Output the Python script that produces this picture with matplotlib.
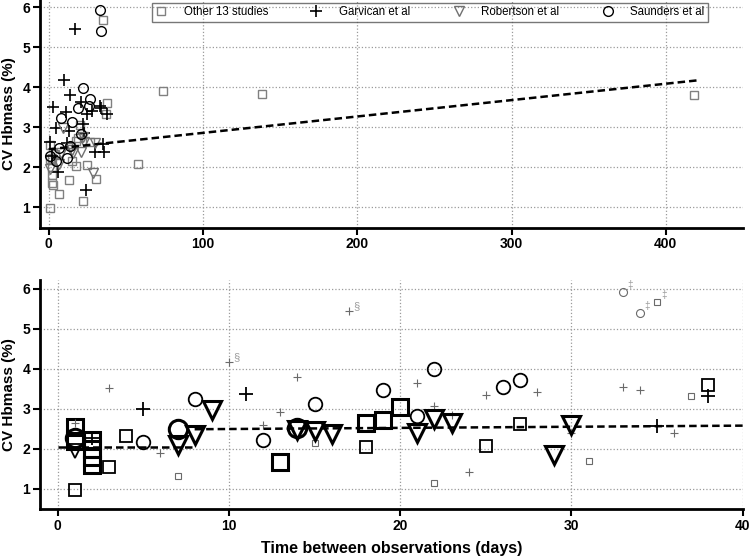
import matplotlib
matplotlib.use("Agg")
import matplotlib.pyplot as plt
import numpy as np

plt.rcParams['font.family'] = ['Liberation Sans', 'DejaVu Sans']

# ---------------- data ----------------
# Other 13 studies (squares): days, CV, weight class (1 small, 2 medium, 3 large)
sq_x = [1, 1, 1, 2, 2, 2, 2, 3, 4, 7, 13, 15, 18, 18, 19, 20, 22, 25, 27, 31, 35, 37, 38, 58, 74, 138, 418]
sq_y = [2.55, 2.2, 0.97, 2.22, 2.0, 1.8, 1.6, 1.55, 2.32, 1.33, 1.68, 2.15, 2.65, 2.04, 2.72, 3.05, 1.15, 2.06, 2.62, 1.70, 5.68, 3.32, 3.6, 2.08, 3.91, 3.83, 3.8]
sq_w = [3, 3, 2, 3, 3, 3, 3, 2, 2, 1, 3, 1, 3, 2, 3, 3, 1, 2, 2, 1, 1, 1, 2, 1, 1, 1, 1]

# Garvican et al (plus)
gv_x = [1, 2, 3, 5, 6, 10, 11, 12, 13, 14, 17, 21, 22, 23, 24, 25, 28, 30, 33, 34, 35, 36, 38]
gv_y = [2.64, 2.28, 3.51, 2.99, 1.89, 4.18, 3.37, 2.6, 2.91, 3.80, 5.45, 3.64, 3.07, 2.85, 1.42, 3.34, 3.41, 2.39, 3.54, 3.47, 2.57, 2.39, 3.32]
gv_w = [1, 2, 1, 2, 1, 1, 2, 1, 1, 1, 1, 1, 1, 1, 1, 1, 1, 1, 1, 1, 2, 1, 2]

# Robertson et al (down triangles)
rb_x = [1, 7, 8, 9, 14, 15, 16, 21, 22, 23, 29, 30]
rb_y = [1.95, 2.09, 2.35, 2.97, 2.47, 2.44, 2.36, 2.39, 2.75, 2.64, 1.85, 2.6]
rb_w = [2, 3, 3, 3, 3, 3, 3, 3, 3, 3, 3, 3]

# Saunders et al (circles)
sd_x = [1, 5, 7, 8, 12, 14, 15, 19, 21, 22, 26, 27, 33, 34]
sd_y = [2.27, 2.16, 2.49, 3.24, 2.22, 2.52, 3.12, 3.47, 2.82, 3.99, 3.54, 3.71, 5.93, 5.41]
sd_w = [3, 2, 3, 2, 2, 3, 2, 2, 2, 2, 2, 2, 1, 1]

# annotated points in the lower panel
sect_pts = [(10, 4.18), (17, 5.45)]          # marked with §
dagger_pts = [(33, 5.93), (34, 5.41), (35, 5.68)]  # marked with ‡

# fitted trend lines
trend_top_x = [0, 420]
trend_top_y = [2.45, 4.17]
trend_bot1_x = [0, 8]
trend_bot1_y = [2.05, 2.05]
trend_bot2_x = [8, 40]
trend_bot2_y = [2.49, 2.58]

labels = ['Other 13 studies', 'Garvican et al', 'Robertson et al', 'Saunders et al']

# ---------------- figure ----------------
W, H = 750, 559
fig = plt.figure(figsize=(7.5, 5.59), dpi=100)

ax1 = fig.add_axes([40 / W, 1 - 227.7 / H, 703 / W, 227.7 / H])
ax2 = fig.add_axes([40 / W, 1 - 509.3 / H, 703 / W, 229.3 / H])


def style(ax):
    for s in ['top', 'right']:
        ax.spines[s].set_visible(False)
    for s in ['left', 'bottom']:
        ax.spines[s].set_linewidth(2)
        ax.spines[s].set_color('black')
    ax.grid(True, linestyle=':', color='#9a9a9a', linewidth=0.9)
    ax.set_axisbelow(True)
    ax.tick_params(direction='out', length=5, width=1.5, labelsize=10, pad=2)
    for t in ax.get_xticklabels() + ax.get_yticklabels():
        t.set_fontweight('bold')
    ax.set_ylabel('CV Hbmass (%)', fontsize=11, fontweight='bold', labelpad=5)


# ---- top panel ----
h_sq, = ax1.plot(sq_x, sq_y, 's', ms=5.5, mfc='none', mec='#808080', mew=1.0, linestyle='none')
h_gv, = ax1.plot(gv_x, gv_y, '+', ms=8, mec='black', mew=1.2, linestyle='none')
h_rb, = ax1.plot(rb_x, rb_y, 'v', ms=7, mfc='none', mec='#707070', mew=1.0, linestyle='none')
h_sd, = ax1.plot(sd_x, sd_y, 'o', ms=7, mfc='none', mec='black', mew=1.0, linestyle='none')
ax1.plot(trend_top_x, trend_top_y, linestyle=(0, (3, 1.6)), color='black', lw=1.8, zorder=4)
ax1.set_xlim(-5.6, 450)
ax1.set_ylim(0.49, 6.18)
ax1.set_xticks([0, 100, 200, 300, 400])
ax1.set_yticks([1, 2, 3, 4, 5, 6])
style(ax1)

leg = fig.legend([h_sq, h_gv, h_rb, h_sd], labels, ncol=4, loc='upper left',
                 bbox_to_anchor=(152 / W, 1 - 3 / H),
                 fontsize=8.3, frameon=True, fancybox=False,
                 handlelength=1.0, handletextpad=1.45, columnspacing=3.7,
                 borderpad=0.3, borderaxespad=0)
leg.get_frame().set_edgecolor('#555555')
leg.get_frame().set_linewidth(1.0)
leg.get_frame().set_facecolor('none')

# ---- bottom panel ----
ms_map = {1: 5, 2: 8.5, 3: 11.5}
mew_map = {1: 0.8, 2: 1.3, 3: 2.2}
col_map = {1: '#6a6a6a', 2: 'black', 3: 'black'}


def bubbles(ax, xs, ys, ws, marker, scale=1.0):
    for x, y, w in zip(xs, ys, ws):
        if x > 40:
            continue
        ax.plot([x], [y], marker, ms=ms_map[w] * scale, mfc='none', mec=col_map[w],
                mew=mew_map[w], linestyle='none')


bubbles(ax2, sq_x, sq_y, sq_w, 's')
bubbles(ax2, gv_x, gv_y, gv_w, '+', 1.15)
bubbles(ax2, rb_x, rb_y, rb_w, 'v', 1.15)
bubbles(ax2, sd_x, sd_y, sd_w, 'o', 1.15)

for (x, y) in sect_pts:
    ax2.annotate('§', (x, y), xytext=(3, 0), textcoords='offset points',
                 fontsize=8, color='#9a9a9a', va='bottom', ha='left')
for (x, y) in dagger_pts:
    ax2.annotate('‡', (x, y), xytext=(3, 1), textcoords='offset points',
                 fontsize=7, color='#9a9a9a', va='bottom', ha='left')

ax2.plot(trend_bot1_x, trend_bot1_y, linestyle=(0, (3, 1.6)), color='black', lw=1.8, zorder=4)
ax2.plot(trend_bot2_x, trend_bot2_y, linestyle=(0, (3, 1.6)), color='black', lw=1.8, zorder=4)
ax2.set_xlim(-1.03, 40.02)
ax2.set_ylim(0.486, 6.225)
ax2.set_xticks([0, 10, 20, 30, 40])
ax2.set_yticks([1, 2, 3, 4, 5, 6])
style(ax2)
ax2.set_xlabel('Time between observations (days)', fontsize=11.5, fontweight='bold', labelpad=6)

fig.savefig('out.png', dpi=100)
